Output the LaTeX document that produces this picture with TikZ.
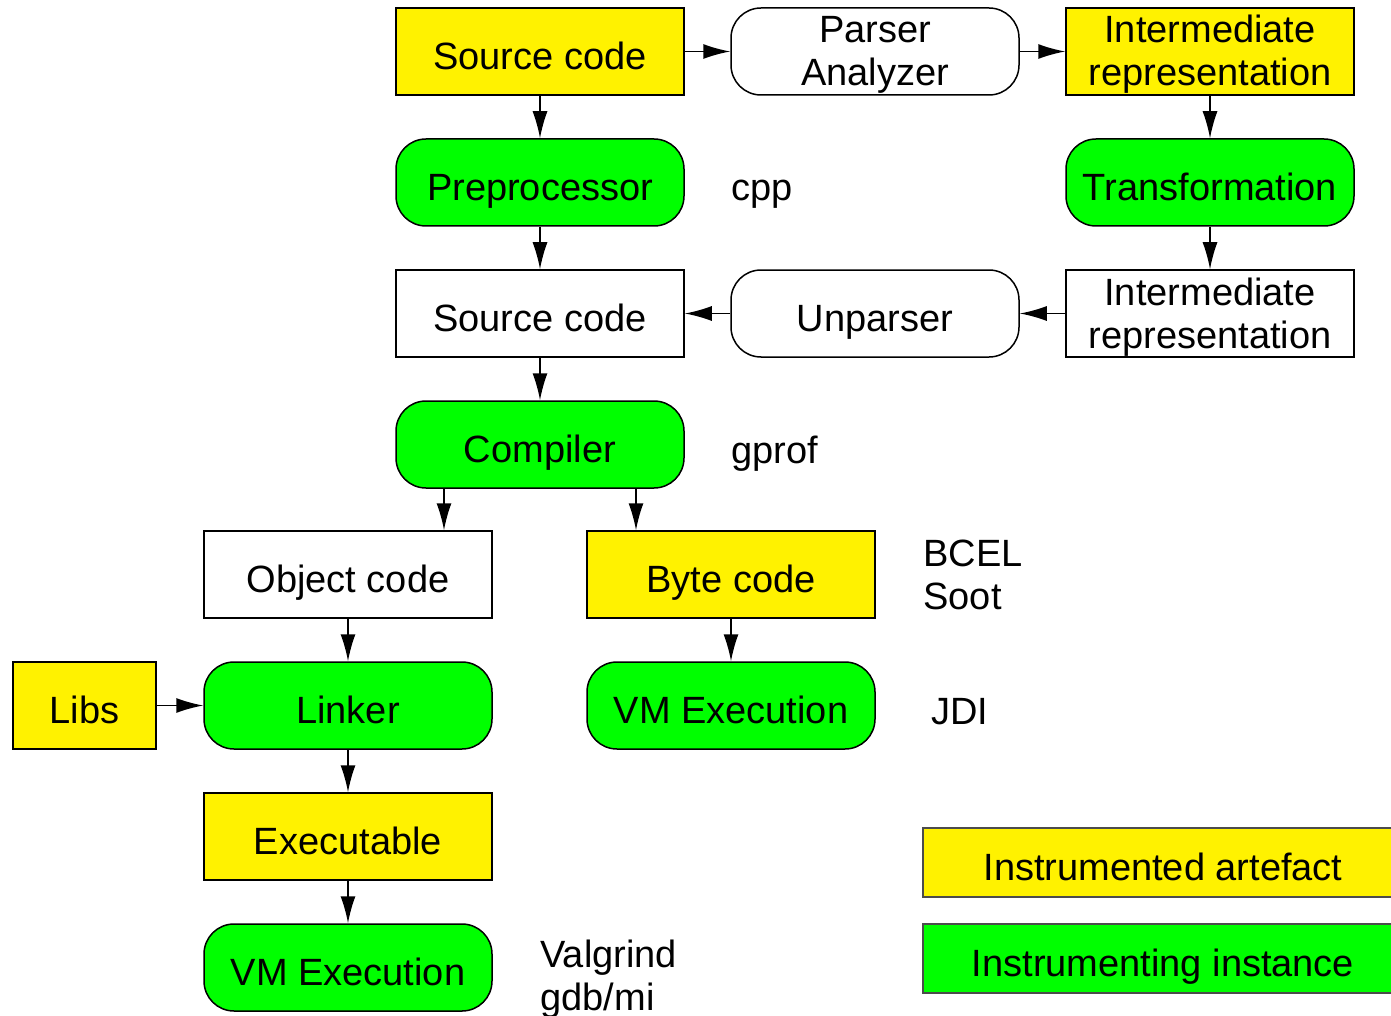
\documentclass[tikz,border=0pt]{standalone}
\usepackage{fontspec}
\setmainfont{Liberation Sans}
\usetikzlibrary{arrows.meta}
\begin{document}
\begin{tikzpicture}[x=0.5pt,y=-0.5pt,
  box/.style={draw, line width=0.75pt, minimum width=144pt, minimum height=43.5pt,
    align=center, inner sep=0pt, font=\fontsize{19}{21.5}\selectfont,
    text height=22pt, text depth=3.6pt},
  twoline/.style={text height=38.5pt, text depth=4pt},
  art/.style={box, fill=yellow},
  plain/.style={box, fill=white},
  inst/.style={box, fill=green, rounded corners=15pt},
  proc/.style={box, fill=white, rounded corners=15pt},
  tool/.style={anchor=west, align=left, inner sep=0pt, font=\fontsize{19}{21.5}\selectfont},
  arr/.style={-{Latex[length=13.5pt,width=7.5pt]}, line width=0.75pt}]
\useasboundingbox (0,0) rectangle (1391,1016);

% front end
\node[art]  (src)   at (540,51.5)   {Source code};
\node[proc, twoline] (parse) at (875,51.5)   {Parser\\Analyzer};
\node[art, twoline]  (ir1)   at (1210,51.5)  {Intermediate\\representation};
\node[inst] (pre)   at (540,182.5)  {Preprocessor};
\node[inst] (trans) at (1210,182.5) {Transformation};
\node[plain](src2)  at (540,313.5)  {Source code};
\node[proc] (unp)   at (875,313.5)  {Unparser};
\node[plain, twoline](ir2)   at (1210,313.5) {Intermediate\\representation};
\node[inst] (comp)  at (540,444.5)  {Compiler};

% back end
\node[plain](obj)   at (348,574.5)  {Object code};
\node[art]  (byte)  at (731,574.5)  {Byte code};
\node[art, minimum width=71.5pt] (libs) at (84.5,705.5) {Libs};
\node[inst] (link)  at (348,705.5)  {Linker};
\node[inst] (vm1)   at (731,705.5)  {VM Execution};
\node[art]  (exe)   at (348,836.5)  {Executable};
\node[inst] (vm2)   at (348,967.5)  {VM Execution};

% tool labels
\node[tool] (tcpp)  at (731,194)  {cpp};
\node[tool] (tgp)   at (731,454)  {gprof};
\node[tool] (tbc)   at (923,575)  {BCEL\\Soot};
\node[tool] (tjdi)  at (931,712)  {JDI};
\node[tool] (tval)  at (540,979)  {Valgrind\\gdb/mi};

% legend
\node[art, draw=black!70, minimum width=240pt, minimum height=34.5pt]  (lart)  at (1163,862.5) {Instrumented artefact};
\node[box, draw=black!70, fill=green, minimum width=240pt, minimum height=34.5pt] (linst) at (1163,958.5) {Instrumenting instance};

% connectors
\draw[arr] (src) -- (parse);
\draw[arr] (parse) -- (ir1);
\draw[arr] (src) -- (pre);
\draw[arr] (ir1) -- (trans);
\draw[arr] (pre) -- (src2);
\draw[arr] (trans) -- (ir2);
\draw[arr] (ir2) -- (unp);
\draw[arr] (unp) -- (src2);
\draw[arr] (src2) -- (comp);
\draw[arr] ([xshift=-48pt]comp.south) -- ([xshift=-48pt]comp.south |- obj.north);
\draw[arr] ([xshift=48pt]comp.south) -- ([xshift=48pt]comp.south |- byte.north);
\draw[arr] (obj) -- (link);
\draw[arr] (libs) -- (link);
\draw[arr] (byte) -- (vm1);
\draw[arr] (link) -- (exe);
\draw[arr] (exe) -- (vm2);
\end{tikzpicture}
\end{document}
